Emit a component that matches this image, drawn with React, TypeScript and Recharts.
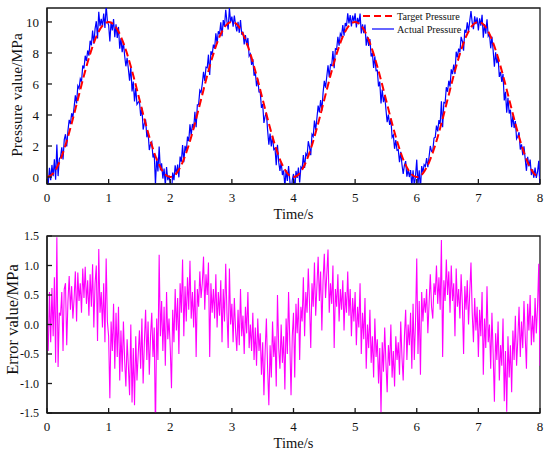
import React from 'react';
import { LineChart, Line, XAxis, YAxis, ReferenceArea, Legend } from 'recharts';

const FONT = '"Liberation Serif", "Times New Roman", Times, serif';
const AXIS_COLOR = '#1a1a1a';
const TEXT_COLOR = '#111111';

const X_TICKS = [0, 1, 2, 3, 4, 5, 6, 7, 8];
const PRESSURE_TICKS = [0, 2, 4, 6, 8, 10];
const ERROR_TICKS = [-1.5, -1.0, -0.5, 0.0, 0.5, 1.0, 1.5];
const X_DOMAIN = [0, 8];
const PRESSURE_DOMAIN = [-0.45, 10.9];
const ERROR_DOMAIN = [-1.5, 1.5];

const X_TITLE = 'Time/s';
const PRESSURE_TITLE = 'Pressure value/MPa';
const ERROR_TITLE = 'Error value/MPa';
const TARGET_NAME = 'Target Pressure';
const ACTUAL_NAME = 'Actual Pressure';

const TARGET_STEP = 0.1; // s between target samples
const SAMPLE_STEP = 0.02; // s between measured samples

// Target pressure (MPa), one value every 0.1 s from 0 to 8 s
const TARGET_PRESSURE = [
  0.00, 0.24, 0.95, 2.06, 3.45, 5.00, 6.55, 7.94, 9.05, 9.76,
  10.00, 9.76, 9.05, 7.94, 6.55, 5.00, 3.45, 2.06, 0.95, 0.24,
  0.00, 0.24, 0.95, 2.06, 3.45, 5.00, 6.55, 7.94, 9.05, 9.76,
  10.00, 9.76, 9.05, 7.94, 6.55, 5.00, 3.45, 2.06, 0.95, 0.24,
  0.00, 0.24, 0.95, 2.06, 3.45, 5.00, 6.55, 7.94, 9.05, 9.76,
  10.00, 9.76, 9.05, 7.94, 6.55, 5.00, 3.45, 2.06, 0.95, 0.24,
  0.00, 0.24, 0.95, 2.06, 3.45, 5.00, 6.55, 7.94, 9.05, 9.76,
  10.00, 9.76, 9.05, 7.94, 6.55, 5.00, 3.45, 2.06, 0.95, 0.24,
  0.00,
];

// Actual pressure (MPa), one value every 0.02 s from 0 to 8 s
const ACTUAL_PRESSURE = [
  0.00, -0.44, 0.59, -0.21, 0.78, 0.05, 1.15, -0.17, 2.10, 0.06,
  1.16, 1.30, 1.91, 1.13, 2.41, 2.76, 1.97, 2.99, 3.69, 3.41,
  4.11, 3.86, 4.51, 5.27, 4.74, 5.88, 5.71, 6.33, 6.14, 7.19,
  7.00, 7.82, 7.48, 8.16, 7.83, 8.79, 8.49, 9.44, 8.60, 9.55,
  10.05, 8.94, 10.66, 9.72, 10.20, 9.71, 10.54, 9.61, 11.08, 10.04,
  9.80, 8.74, 10.01, 9.46, 10.19, 9.01, 9.85, 8.97, 9.68, 8.27,
  8.95, 8.05, 8.70, 7.82, 7.14, 7.69, 6.98, 6.21, 7.13, 5.52,
  6.15, 4.87, 5.74, 4.68, 4.81, 4.90, 3.94, 4.47, 3.06, 3.46,
  3.71, 2.56, 2.92, 1.74, 2.12, 2.26, 1.26, 1.53, -0.49, 1.25,
  0.36, 1.96, 0.42, 0.88, -0.10, 0.55, -0.54, 0.64, -0.21, 0.11,
  -0.40, -1.07, 0.29, -0.21, 0.76, 0.15, 0.80, -0.02, 1.32, 0.98,
  2.06, 0.95, 2.01, 1.63, 2.61, 2.31, 3.40, 2.69, 3.42, 3.11,
  4.21, 3.21, 4.66, 4.67, 5.59, 5.45, 6.01, 6.78, 6.19, 7.09,
  7.05, 7.89, 6.58, 8.11, 7.88, 8.54, 8.29, 9.27, 8.60, 9.40,
  9.20, 9.97, 9.08, 10.12, 9.70, 10.79, 10.04, 9.51, 10.91, 9.99,
  10.35, 9.69, 10.41, 9.81, 9.39, 10.01, 9.30, 10.12, 9.18, 9.37,
  8.55, 9.15, 8.50, 8.97, 7.79, 7.94, 7.23, 7.61, 6.53, 6.79,
  5.85, 6.34, 5.49, 5.48, 4.46, 4.70, 3.49, 3.92, 4.16, 3.01,
  2.09, 2.81, 1.97, 2.64, 1.77, 1.86, 0.76, 2.08, 0.96, 0.40,
  0.96, 0.13, 0.42, -0.62, 0.45, -0.25, 0.71, -0.21, -1.16, -0.19,
  0.20, -0.89, 0.39, -0.06, 0.61, -0.35, 0.65, 0.53, 1.42, 0.58,
  1.51, 1.35, 2.31, 1.93, 1.41, 2.76, 2.62, 3.64, 3.02, 3.81,
  4.61, 4.16, 4.96, 4.27, 5.44, 6.20, 5.76, 6.48, 7.21, 6.44,
  7.25, 7.19, 8.13, 7.01, 8.28, 8.24, 9.04, 8.47, 9.25, 9.10,
  9.80, 9.12, 9.93, 9.72, 10.55, 9.91, 10.44, 9.71, 10.41, 10.04,
  10.55, 9.64, 10.26, 9.86, 10.54, 9.26, 9.85, 9.27, 9.83, 8.47,
  9.05, 8.45, 8.90, 7.77, 7.99, 7.04, 7.78, 6.86, 6.88, 5.84,
  6.15, 4.74, 5.64, 4.83, 5.26, 4.35, 3.54, 4.02, 3.36, 3.76,
  2.56, 2.71, 1.82, 2.39, 1.72, 1.76, 0.96, 1.63, 0.81, 0.20,
  0.76, 1.03, 0.02, 0.48, 0.00, 0.45, -0.59, 0.44, -0.56, 0.06,
  1.12, -0.49, 0.44, -0.76, 0.71, 0.30, 0.80, 0.68, 1.22, 0.63,
  1.31, 2.00, 1.66, 1.68, 2.51, 2.56, 3.32, 2.94, 3.67, 3.41,
  4.89, 3.21, 4.81, 4.77, 5.79, 5.50, 6.21, 5.83, 6.94, 6.64,
  7.25, 6.64, 8.08, 7.71, 8.28, 8.04, 9.04, 8.77, 8.15, 9.50,
  9.30, 9.97, 9.38, 10.07, 10.70, 9.96, 9.54, 10.36, 9.86, 10.29,
  9.45, 10.24, 9.76, 10.46, 8.99, 9.86, 9.25, 10.17, 9.08, 9.22,
  8.30, 9.05, 8.15, 7.11, 8.04, 7.34, 7.73, 6.46, 6.78, 6.14,
  6.65, 4.94, 5.49, 4.15, 5.11, 4.10, 4.34, 3.22, 3.96, 3.16,
  3.61, 2.46, 2.62, 2.89, 1.77, 2.11, 1.41, 1.98, 1.16, 0.40,
  1.31, 0.68, 1.12, 0.13, 0.50, -0.05, 0.61, -0.06, 0.34, 1.04,
  -0.70,
];

// Tracking error (MPa), one value every 0.02 s from 0 to 8 s
const ERROR_VALUE = [
  0.00, -0.45, 0.55, -0.30, 0.62, -0.20, 0.80, -0.65, 1.48, -0.72,
  0.20, 0.15, 0.55, -0.45, 0.60, 0.70, -0.35, 0.40, 0.82, 0.25,
  0.65, 0.10, 0.45, 0.90, 0.05, 0.88, 0.40, 0.70, 0.20, 0.95,
  0.45, 0.98, 0.35, 0.75, 0.15, 0.85, 0.30, 1.02, -0.05, 0.70,
  1.00, -0.28, 1.28, 0.20, 0.55, -0.05, 0.70, -0.30, 1.12, 0.05,
  -0.20, -1.25, 0.05, -0.45, 0.35, -0.75, 0.20, -0.55, 0.30, -0.95,
  -0.10, -0.80, 0.05, -0.60, -1.05, -0.25, -0.70, -1.20, 0.00, -1.32,
  -0.40, -1.37, -0.20, -0.95, -0.50, -0.10, -0.75, 0.10, -1.00, -0.30,
  0.25, -0.60, 0.05, -0.85, -0.20, 0.20, -0.55, -0.05, -1.85, 0.10,
  -0.60, 1.18, -0.20, 0.40, -0.45, 0.30, -0.70, 0.55, -0.25, 0.10,
  -0.40, -1.08, 0.25, -0.30, 0.60, -0.10, 0.45, -0.50, 0.70, 0.20,
  1.10, -0.20, 0.65, 0.05, 0.80, 0.25, 1.08, 0.10, 0.55, -0.05,
  0.75, -0.55, 0.60, 0.30, 0.90, 0.45, 0.70, 1.15, 0.25, 0.85,
  0.50, 1.05, -0.55, 0.70, 0.20, 0.60, 0.10, 0.85, -0.05, 0.55,
  0.15, 0.75, -0.30, 0.60, 0.05, 1.03, 0.20, -0.40, 0.95, 0.00,
  0.35, -0.30, 0.45, -0.10, -0.45, 0.25, -0.35, 0.60, -0.20, 0.15,
  -0.50, 0.30, -0.15, 0.55, -0.40, 0.00, -0.45, 0.20, -0.60, -0.05,
  -0.70, 0.10, -0.45, -0.15, -0.85, -0.30, -1.20, -0.45, 0.10, -0.75,
  -1.37, -0.35, -0.90, 0.05, -0.55, -0.20, -1.05, 0.50, -0.40, -0.75,
  0.00, -0.65, -0.20, -1.10, 0.10, -0.50, 0.55, -0.30, -1.20, -0.20,
  0.20, -0.90, 0.35, -0.15, 0.45, -0.60, 0.30, 0.05, 0.80, -0.20,
  0.55, 0.20, 0.95, 0.35, -0.40, 0.70, 0.30, 1.05, 0.15, 0.65,
  1.15, 0.40, 0.90, -0.10, 0.75, 1.20, 0.45, 0.85, 1.27, 0.20,
  0.70, 0.35, 1.00, -0.40, 0.60, 0.30, 0.85, 0.05, 0.60, 0.25,
  0.75, -0.10, 0.55, 0.20, 0.90, 0.15, 0.60, -0.20, 0.45, 0.05,
  0.55, -0.35, 0.30, -0.05, 0.70, -0.50, 0.20, -0.25, 0.45, -0.75,
  0.00, -0.40, 0.25, -0.65, -0.20, -0.90, 0.10, -0.55, -0.25, -1.00,
  -0.40, -1.50, -0.30, -0.80, -0.05, -0.65, -1.15, -0.35, -0.70, 0.00,
  -0.90, -0.45, -1.05, -0.20, -0.60, -0.30, -0.85, 0.05, -0.55, -0.95,
  -0.20, 0.25, -0.60, 0.00, -0.35, 0.20, -0.75, 0.35, -0.60, 0.05,
  1.12, -0.50, 0.40, -0.85, 0.55, 0.05, 0.45, 0.20, 0.60, -0.15,
  0.35, 0.85, 0.30, 0.10, 0.70, 0.50, 1.00, 0.35, 0.80, 0.25,
  1.43, -0.55, 0.75, 0.40, 1.10, 0.50, 0.90, 0.20, 1.00, 0.40,
  0.70, -0.20, 0.95, 0.30, 0.60, 0.10, 0.85, 0.35, -0.50, 0.65,
  0.25, 0.75, 0.00, 0.55, 1.05, 0.20, -0.30, 0.45, -0.10, 0.30,
  -0.55, 0.25, -0.20, 0.55, -0.85, 0.10, -0.40, 0.65, -0.30, 0.00,
  -0.75, 0.20, -0.50, -1.31, -0.15, -0.60, 0.05, -0.95, -0.35, -0.70,
  0.10, -1.30, -0.45, -1.48, -0.20, -0.90, -0.35, -1.15, -0.10, -0.60,
  0.15, -0.70, -0.25, 0.30, -0.55, 0.05, -0.40, 0.40, -0.20, -0.75,
  0.35, -0.10, 0.50, -0.35, 0.15, -0.30, 0.45, -0.15, 0.30, 1.03,
  -0.70,
];

const targetRows = TARGET_PRESSURE.map((v, i) => ({ t: Number((i * TARGET_STEP).toFixed(2)), target: v }));
const actualRows = ACTUAL_PRESSURE.map((v, i) => ({ t: Number((i * SAMPLE_STEP).toFixed(2)), actual: v }));
const errorRows = ERROR_VALUE.map((v, i) => ({ t: Number((i * SAMPLE_STEP).toFixed(2)), error: v }));

const makeXTitle = (offset: number) => (props: any) => {
  const vb = props.viewBox || {};
  return (
    <text x={vb.x + vb.width / 2} y={vb.y + offset} textAnchor="middle" fontSize={14.5} fontFamily={FONT} fill={TEXT_COLOR}>
      {X_TITLE}
    </text>
  );
};

const makeYTitle = (title: string, baselineX: number, fontSize: number, dy: number) => (props: any) => {
  const vb = props.viewBox || {};
  const cy = vb.y + vb.height / 2 + dy;
  return (
    <text
      x={baselineX}
      y={cy}
      transform={`rotate(-90 ${baselineX} ${cy})`}
      textAnchor="middle"
      fontSize={fontSize}
      fontFamily={FONT}
      fill={TEXT_COLOR}
    >
      {title}
    </text>
  );
};

const renderLegend = () => (
  <svg width={120} height={28} style={{ display: 'block', overflow: 'visible' }}>
    <line x1={3} x2={34} y1={7} y2={7} stroke="#ff0000" strokeWidth={2} strokeDasharray="7 4" />
    <text x={37} y={7} dominantBaseline="central" fontSize={10.2} fontFamily={FONT} fill={TEXT_COLOR}>
      {TARGET_NAME}
    </text>
    <line x1={12} x2={34} y1={20} y2={20} stroke="#0000ff" strokeWidth={1.2} />
    <text x={37} y={20} dominantBaseline="central" fontSize={10.2} fontFamily={FONT} fill={TEXT_COLOR}>
      {ACTUAL_NAME}
    </text>
  </svg>
);

const axisLine = { stroke: AXIS_COLOR, strokeWidth: 1.3 };

export default function App() {
  return (
    <div style={{ position: 'absolute', left: 0, top: 0, width: 550, height: 451, background: '#ffffff', fontFamily: FONT }}>
      <LineChart width={550} height={225} margin={{ top: 8, right: 10, bottom: 0, left: 0 }}>
        <XAxis
          type="number"
          dataKey="t"
          domain={X_DOMAIN}
          ticks={X_TICKS}
          interval={0}
          allowDataOverflow
          height={41}
          axisLine={axisLine}
          tickLine={axisLine}
          tickSize={-5}
          tickMargin={14}
          tick={{ fill: TEXT_COLOR, fontSize: 13, fontFamily: FONT }}
          label={makeXTitle(34.5)}
        />
        <YAxis
          type="number"
          domain={PRESSURE_DOMAIN}
          ticks={PRESSURE_TICKS}
          interval={0}
          allowDataOverflow
          width={47}
          axisLine={axisLine}
          tickLine={axisLine}
          tickSize={-5}
          tickMargin={13}
          tick={{ fill: TEXT_COLOR, fontSize: 13, fontFamily: FONT }}
          label={makeYTitle(PRESSURE_TITLE, 22, 15.5, -1)}
        />
        <ReferenceArea
          x1={X_DOMAIN[0]}
          x2={X_DOMAIN[1]}
          y1={PRESSURE_DOMAIN[0]}
          y2={PRESSURE_DOMAIN[1]}
          fill="none"
          stroke={AXIS_COLOR}
          strokeWidth={1.3}
          ifOverflow="visible"
        />
        <Line
          data={actualRows}
          dataKey="actual"
          name={ACTUAL_NAME}
          type="linear"
          stroke="#0000ff"
          strokeWidth={1.2}
          dot={false}
          activeDot={false}
          isAnimationActive={false}
        />
        <Line
          data={targetRows}
          dataKey="target"
          name={TARGET_NAME}
          type="monotone"
          stroke="#ff0000"
          strokeWidth={2}
          strokeDasharray="8 4"
          dot={false}
          activeDot={false}
          isAnimationActive={false}
        />
        <Legend
          layout="horizontal"
          verticalAlign="middle"
          align="center"
          content={renderLegend}
          wrapperStyle={{ position: 'absolute', left: 360, top: 9, width: 120, height: 28 }}
        />
      </LineChart>
      <LineChart width={550} height={226} margin={{ top: 11, right: 10, bottom: 0, left: 0 }}>
        <XAxis
          type="number"
          dataKey="t"
          domain={X_DOMAIN}
          ticks={X_TICKS}
          interval={0}
          allowDataOverflow
          height={38}
          axisLine={axisLine}
          tickLine={axisLine}
          tickSize={-5}
          tickMargin={14}
          tick={{ fill: TEXT_COLOR, fontSize: 13, fontFamily: FONT }}
          label={makeXTitle(34.5)}
        />
        <YAxis
          type="number"
          domain={ERROR_DOMAIN}
          ticks={ERROR_TICKS}
          interval={0}
          allowDataOverflow
          width={47}
          axisLine={axisLine}
          tickLine={axisLine}
          tickSize={-5}
          tickMargin={13}
          tick={{ fill: TEXT_COLOR, fontSize: 12, fontFamily: FONT }}
          tickFormatter={(v: number) => v.toFixed(1)}
          label={makeYTitle(ERROR_TITLE, 18, 16.5, -5)}
        />
        <ReferenceArea
          x1={X_DOMAIN[0]}
          x2={X_DOMAIN[1]}
          y1={ERROR_DOMAIN[0]}
          y2={ERROR_DOMAIN[1]}
          fill="none"
          stroke={AXIS_COLOR}
          strokeWidth={1.3}
          ifOverflow="visible"
        />
        <Line
          data={errorRows}
          dataKey="error"
          type="linear"
          stroke="#ff00ff"
          strokeWidth={1.1}
          dot={false}
          activeDot={false}
          isAnimationActive={false}
        />
      </LineChart>
    </div>
  );
}
